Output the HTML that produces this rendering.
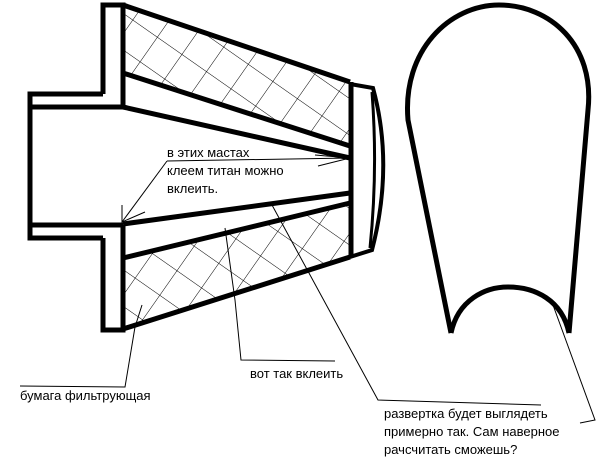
<!DOCTYPE html>
<html><head><meta charset="utf-8"><style>
html,body{margin:0;padding:0;background:#fff;}
svg{display:block;}
text{font-family:"Liberation Sans","DejaVu Sans",sans-serif;font-size:13px;fill:#000;}
</style></head><body>
<svg width="614" height="460" viewBox="0 0 614 460" xmlns="http://www.w3.org/2000/svg">
<defs>
<pattern id="h" width="30" height="30" patternUnits="userSpaceOnUse" patternTransform="rotate(35)">
<line x1="0" y1="0" x2="0" y2="30" stroke="#000" stroke-width="1"/>
<line x1="0" y1="0" x2="30" y2="0" stroke="#000" stroke-width="1"/>
</pattern>
</defs>
<polygon points="123,6 350,82 350,146 123,73" fill="url(#h)"/>
<polygon points="123,258 350,203 350,256 123,327" fill="url(#h)"/>
<g fill="none" stroke="#000" stroke-width="5" stroke-linejoin="miter">
<!-- pipe + flange -->
<path d="M103,94 L30,94 L30,238 L103,238"/>
<path d="M30,107 L123,107 M30,225 L123,225"/>
<path d="M103,94 L103,5 L123,5 L123,107"/>
<path d="M103,238 L103,330 L123,330 L123,225"/>
<line x1="123" y1="5" x2="350" y2="82"/>
<line x1="123" y1="329" x2="350" y2="257"/>
<line x1="123" y1="73" x2="350" y2="146"/>
<line x1="123" y1="107" x2="350" y2="158"/>
<line x1="123" y1="224" x2="350" y2="193"/>
<line x1="123" y1="258" x2="350" y2="203"/>
<line x1="351" y1="82" x2="351" y2="258"/>
<path d="M350,84 L373,88 Q394,165 372,250 L350,257" stroke-width="4"/>
<path d="M372,92 Q378,170 370,248" stroke-width="3"/>
<path d="M451,333 L408,120 C402,50 450,5 499,5 C550,5 595,45 588,110 L569,333" stroke-width="5"/>
<path d="M451,333 C458,300 485,287 508,287 C535,287 562,300 569,333" stroke-width="5"/>
</g>
<g fill="none" stroke="#000" stroke-width="1">
<polyline points="167,161 122,222"/>
<polyline points="122,205 122,222 145,212"/>
<polyline points="167,161 350,158"/>
<polyline points="315,155 350,158 318,166"/>
<polyline points="20,386 125,387 135,327 142,305"/>
<polyline points="225,228 235,300 241,360 335,361"/>
<polyline points="272,205 378,400 541,405"/>
<polyline points="553,305 595,420 580,423"/>
</g>
<text x="167" y="157">в этих мастах</text>
<text x="167" y="175">клеем титан можно</text>
<text x="167" y="193">вклеить.</text>
<text x="250" y="378">вот так вклеить</text>
<text x="20" y="400">бумага фильтрующая</text>
<text x="384" y="418">развертка будет выглядеть</text>
<text x="384" y="436">примерно так. Сам наверное</text>
<text x="384" y="454">рачсчитать сможешь?</text>
</svg>
</body></html>
